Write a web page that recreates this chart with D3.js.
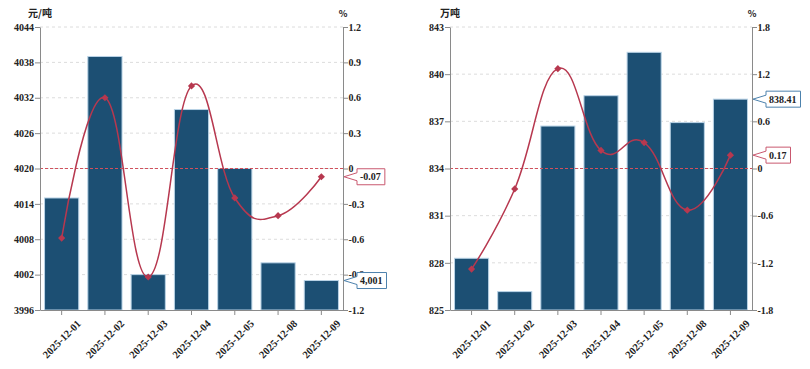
<!DOCTYPE html>
<html>
<head>
<meta charset="utf-8">
<script src="https://cdn.jsdelivr.net/npm/d3@7"></script>
<style>
  html, body { margin: 0; padding: 0; background: #fff; }
  svg { display: block; }
</style>
</head>
<body>
<div id="viz-container"></div>
<script>
// ── Data ─────────────────────────────────────────────────────
const dates = ['2025-12-01', '2025-12-02', '2025-12-03', '2025-12-04', '2025-12-05', '2025-12-08', '2025-12-09'];

// left panel: price (元/吨) and daily change (%)
const priceValues  = [4015, 4039, 4002, 4030, 4020, 4004, 4001];
const priceChange  = [-0.59, 0.60, -0.92, 0.70, -0.25, -0.40, -0.07];
const priceTicks   = [3996, 4002, 4008, 4014, 4020, 4026, 4032, 4038, 4044];
const priceRTicks  = [-1.2, -0.9, -0.6, -0.3, 0, 0.3, 0.6, 0.9, 1.2];

// right panel: volume (万吨) and daily change (%)
const volumeValues = [828.29, 826.17, 836.70, 838.63, 841.39, 836.92, 838.41];
const volumeChange = [-1.28, -0.26, 1.27, 0.23, 0.33, -0.53, 0.17];
const volumeTicks  = [825, 828, 831, 834, 837, 840, 843];
const volumeRTicks = [-1.8, -1.2, -0.6, 0, 0.6, 1.2, 1.8];

const BAR_COLOR   = '#1c4f73';
const BAR_STROKE  = '#b9d3e6';
const LINE_COLOR  = '#b7384f';
const ZERO_COLOR  = '#d0505c';
const AXIS_COLOR  = '#8a8a8a';
const TEXT_COLOR  = '#222';
const SERIF = '"Liberation Serif", "Times New Roman", serif';
const CJK   = '"Noto Sans CJK SC", sans-serif';

const W = 810, H = 369;
const TOP = 27, BOTTOM = 310;

const svg = d3.select('#viz-container').append('svg')
  .attr('width', W).attr('height', H);

drawPanel({
  x0: 40, x1: 343,
  unit: '元/吨',
  bars: priceValues, line: priceChange,
  leftTicks: priceTicks, rightTicks: priceRTicks,
  barLabel: '4,001', lineLabel: '-0.07',
});

drawPanel({
  x0: 450, x1: 752,
  unit: '万吨',
  bars: volumeValues, line: volumeChange,
  leftTicks: volumeTicks, rightTicks: volumeRTicks,
  barLabel: '838.41', lineLabel: '0.17',
});

// ── Panel ─────────────────────────────────────────────────────
function drawPanel(cfg) {
  const g = svg.append('g');

  const x = d3.scaleBand()
    .domain(dates)
    .range([cfg.x0, cfg.x1])
    .paddingInner(0.21)
    .paddingOuter(0.105);

  const yL = d3.scaleLinear()
    .domain(d3.extent(cfg.leftTicks))
    .range([BOTTOM, TOP]);

  const yR = d3.scaleLinear()
    .domain(d3.extent(cfg.rightTicks))
    .range([BOTTOM, TOP]);

  // grid
  g.append('g').selectAll('line')
    .data(cfg.leftTicks.slice(1))
    .join('line')
    .attr('x1', cfg.x0).attr('x2', cfg.x1)
    .attr('y1', d => yL(d)).attr('y2', d => yL(d))
    .attr('stroke', '#dcdcdc')
    .attr('stroke-dasharray', '3,3');

  // bars
  g.append('g').selectAll('rect')
    .data(cfg.bars)
    .join('rect')
    .attr('x', (d, i) => x(dates[i]))
    .attr('y', d => yL(d))
    .attr('width', x.bandwidth())
    .attr('height', d => BOTTOM - yL(d))
    .attr('fill', BAR_COLOR)
    .attr('stroke', BAR_STROKE)
    .attr('stroke-width', 1);

  // zero reference line
  g.append('line')
    .attr('x1', cfg.x0).attr('x2', cfg.x1)
    .attr('y1', yR(0)).attr('y2', yR(0))
    .attr('stroke', ZERO_COLOR)
    .attr('stroke-width', 1)
    .attr('stroke-dasharray', '3,2');

  // axes
  const axisStyle = sel => {
    sel.attr('font-family', SERIF);
    sel.select('.domain').attr('stroke', AXIS_COLOR);
    sel.selectAll('.tick line').attr('stroke', AXIS_COLOR);
    sel.selectAll('.tick text')
      .attr('fill', TEXT_COLOR)
      .style('font-family', SERIF)
      .attr('font-weight', 'bold')
      .attr('font-size', 10);
  };

  g.append('g')
    .attr('transform', `translate(${cfg.x0},0)`)
    .call(d3.axisLeft(yL).tickValues(cfg.leftTicks).tickSize(5).tickPadding(1).tickSizeOuter(0).tickFormat(d3.format('d')))
    .call(axisStyle);

  g.append('g')
    .attr('transform', `translate(${cfg.x1},0)`)
    .call(d3.axisRight(yR).tickValues(cfg.rightTicks).tickSize(5).tickPadding(0.5).tickSizeOuter(0).tickFormat(d => d === 0 ? '0' : String(d)))
    .call(axisStyle);

  const xAxis = g.append('g')
    .attr('transform', `translate(0,${BOTTOM})`)
    .call(d3.axisBottom(x).tickSize(5).tickSizeOuter(0))
    .call(axisStyle);
  xAxis.selectAll('.tick text')
    .attr('font-size', 10.5)
    .attr('text-anchor', 'middle')
    .attr('y', 0).attr('dy', '0.35em')
    .attr('transform', 'translate(0,29) rotate(-45)');

  // unit labels
  g.append('text')
    .attr('x', cfg.x0).attr('y', 17)
    .attr('text-anchor', 'middle')
    .attr('font-family', CJK).attr('font-weight', 'bold').attr('font-size', 10)
    .attr('fill', TEXT_COLOR)
    .text(cfg.unit);
  g.append('text')
    .attr('x', cfg.x1).attr('y', 17)
    .attr('text-anchor', 'middle')
    .attr('font-family', CJK).attr('font-weight', 'bold').attr('font-size', 9)
    .attr('fill', TEXT_COLOR)
    .text('%');

  // smoothed change line
  const cx = i => x(dates[i]) + x.bandwidth() / 2;
  const lineGen = d3.line()
    .x((d, i) => cx(i))
    .y(d => yR(d))
    .curve(d3.curveCardinal.tension(-0.3));

  g.append('path')
    .datum(cfg.line)
    .attr('d', lineGen)
    .attr('fill', 'none')
    .attr('stroke', LINE_COLOR)
    .attr('stroke-width', 1.5);

  // diamond markers (rotated squares)
  g.append('g').selectAll('path')
    .data(cfg.line)
    .join('path')
    .attr('transform', (d, i) => `translate(${cx(i)},${yR(d)}) rotate(45)`)
    .attr('d', d3.symbol(d3.symbolSquare, 26))
    .attr('fill', LINE_COLOR);

  // callouts for last values
  const last = dates.length - 1;
  callout(g, cfg.x1, yL(cfg.bars[last]), cfg.barLabel, '#4d82ad');
  callout(g, cfg.x1, yR(cfg.line[last]), cfg.lineLabel, '#c9586f');
}

// ── Callout box (arrow pointing at axis) ─────────────────────
function callout(g, ax, y, label, color) {
  const box = g.append('g');
  const txt = box.append('text')
    .attr('x', ax + 17).attr('y', y).attr('dy', '0.35em')
    .attr('font-family', SERIF).attr('font-weight', 'bold').attr('font-size', 10)
    .attr('fill', TEXT_COLOR)
    .text(label);
  const tw = txt.node().getComputedTextLength();
  const bx = ax + 14, bw = tw + 7, top = y - 8, bot = y + 8;
  box.insert('path', 'text')
    .attr('d', `M${ax + 1},${y} L${bx},${y - 4} L${bx},${top} L${bx + bw},${top} L${bx + bw},${bot} L${bx},${bot} L${bx},${y + 4} Z`)
    .attr('fill', '#fff')
    .attr('stroke', color)
    .attr('stroke-width', 1);
}
</script>
</body>
</html>
